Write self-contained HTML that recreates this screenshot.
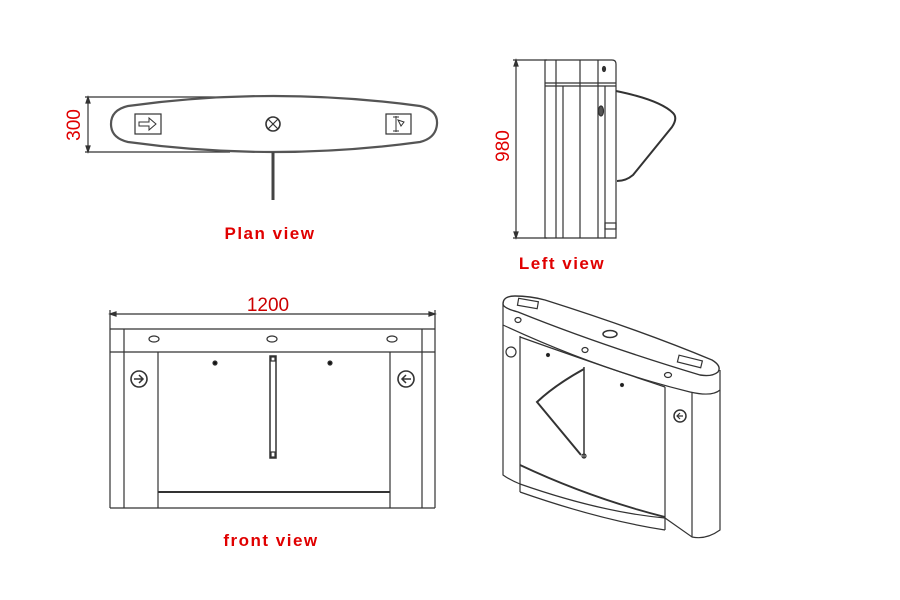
<!DOCTYPE html>
<html><head><style>body{margin:0;background:#fff}svg{display:block}</style></head><body>
<svg width="900" height="600" viewBox="0 0 900 600" xmlns="http://www.w3.org/2000/svg" font-family="Liberation Sans, sans-serif">
<g fill="none" stroke="#333" stroke-width="1.2">
<!-- plan view -->
<line x1="85" y1="97" x2="230" y2="97"/><line x1="85" y1="152" x2="230" y2="152"/>
<line x1="88" y1="98" x2="88" y2="151"/>
<path d="M88 97 l-2 6 h4z M88 152 l-2 -6 h4z" fill="#333"/>
<path d="M128 106 Q273 86 420 106 Q438 110 437 124 Q436 138 420 142 Q273 162 128 142 Q111 138 111 124 Q111 110 128 106Z" stroke-width="2.2" stroke="#555"/>
<rect x="135" y="114" width="26" height="20"/>
<path d="M139 122 h10 v-4 l7 6 -7 6 v-4 h-10z" stroke-width="1"/>
<circle cx="273" cy="124" r="7" stroke-width="1.6"/><path d="M268 119 l10 10 M278 119 l-10 10"/>
<rect x="386" y="114" width="25" height="20"/>
<path d="M396 116 v16 M393 117 h6 M393 131 h6 M398 120 l6 2 -3 4z" stroke-width="1"/>
<rect x="271.5" y="152" width="3" height="48" fill="#444" stroke="none"/>
<!-- left view -->
<line x1="513" y1="60" x2="547" y2="60"/><line x1="513" y1="238" x2="547" y2="238"/>
<line x1="516" y1="61" x2="516" y2="237"/>
<path d="M516 60 l-2 6 h4z M516 238 l-2 -6 h4z" fill="#333"/>
<path d="M545 60 H612 Q616 60 616 64 V238 H545Z"/>
<line x1="545" y1="83" x2="616" y2="83"/><line x1="545" y1="86" x2="616" y2="86"/>
<line x1="556" y1="60" x2="556" y2="238"/><line x1="563" y1="86" x2="563" y2="238"/>
<line x1="580" y1="60" x2="580" y2="238"/><line x1="598" y1="60" x2="598" y2="238"/>
<line x1="605" y1="86" x2="605" y2="238"/><rect x="605" y="223" width="11" height="6"/>
<ellipse cx="604" cy="69" rx="1.5" ry="2.5" fill="#333"/>
<ellipse cx="601" cy="111" rx="2.5" ry="5" fill="#555"/>
<path d="M616 91 Q660 100 673 113 Q678 118 672 127 L633 175 Q626 181 617 181" stroke-width="2"/>
<!-- front view -->
<line x1="110" y1="314" x2="435" y2="314"/>
<path d="M110 314 l6 -2 v4z M435 314 l-6 -2 v4z" fill="#333"/>
<line x1="110" y1="310" x2="110" y2="508"/><line x1="435" y1="310" x2="435" y2="508"/>
<line x1="110" y1="329" x2="435" y2="329"/><line x1="110" y1="352" x2="435" y2="352"/>
<line x1="110" y1="508" x2="435" y2="508"/>
<line x1="124" y1="329" x2="124" y2="508"/><line x1="422" y1="329" x2="422" y2="508"/>
<line x1="158" y1="352" x2="158" y2="508"/><line x1="390" y1="352" x2="390" y2="508"/>
<line x1="158" y1="492" x2="390" y2="492" stroke-width="2"/>
<ellipse cx="154" cy="339" rx="5" ry="3"/><ellipse cx="272" cy="339" rx="5" ry="3"/><ellipse cx="392" cy="339" rx="5" ry="3"/>
<circle cx="215" cy="363" r="2" fill="#111"/><circle cx="330" cy="363" r="2" fill="#111"/>
<circle cx="139" cy="379" r="8" stroke-width="1.6"/><path d="M134 379 h9 M139 375 l4 4 -4 4" stroke-width="1.5"/>
<circle cx="406" cy="379" r="8" stroke-width="1.6"/><path d="M411 379 h-9 M406 375 l-4 4 4 4" stroke-width="1.5"/>
<rect x="270" y="356" width="6" height="102" stroke-width="1.5"/><rect x="271" y="357" width="4" height="4" fill="#fff"/><rect x="271" y="452" width="4" height="5" fill="#fff"/>
<!-- perspective -->
<path d="M503 304 Q503 296 515 296 Q530 296 545 300 Q640 330 712 360 Q722 366 718 372 Q712 377 700 375 Q600 345 518 312 Q503 308 503 304Z" stroke-width="1.4"/>
<path d="M503 304 V325 Q600 370 690 392 Q712 397 720 390 V370"/>
<path d="M503 325 V475 Q510 480 520 484 Q600 512 665 518 L692 537 Q706 540 720 530 V390"/>
<line x1="520" y1="336" x2="520" y2="492"/>
<line x1="665" y1="387" x2="665" y2="530"/><line x1="692" y1="392" x2="692" y2="537"/>
<path d="M520 337 Q590 362 665 387"/>
<path d="M520 465 Q590 498 665 517" stroke-width="1.8"/>
<path d="M520 492 Q600 520 665 530"/>
<rect x="518" y="300" width="20" height="7" transform="rotate(10 528 303)"/>
<rect x="678" y="358" width="24" height="7" transform="rotate(14 690 361)"/>
<ellipse cx="610" cy="334" rx="7" ry="3.5" stroke-width="1.5"/>
<ellipse cx="518" cy="320" rx="3" ry="2.5"/><ellipse cx="585" cy="350" rx="3" ry="2.5"/><ellipse cx="668" cy="375" rx="3.5" ry="2.5"/>
<circle cx="548" cy="355" r="1.5" fill="#111"/><circle cx="622" cy="385" r="1.5" fill="#111"/>
<circle cx="511" cy="352" r="5"/><circle cx="680" cy="416" r="6" stroke-width="1.5"/><path d="M683 416 h-6 M680 413 l-3 3 3 3"/>
<line x1="584" y1="367" x2="584" y2="458" stroke-width="1.5"/>
<path d="M584 369 Q555 385 537 402 L581 455" stroke-width="2"/>
<circle cx="584" cy="456" r="2"/>
</g>
<g fill="#e00000" font-size="17" font-weight="bold">
<text x="270" y="239" text-anchor="middle" letter-spacing="1.5">Plan view</text>
<text x="562" y="269" text-anchor="middle" letter-spacing="1.5">Left view</text>
<text x="271" y="546" text-anchor="middle" letter-spacing="1.5">front view</text>
</g>
<g fill="#e00000" font-size="19">
<text x="268" y="311" text-anchor="middle" fill="#c00">1200</text>
<text transform="translate(80 125) rotate(-90)" text-anchor="middle">300</text>
<text transform="translate(509 146) rotate(-90)" text-anchor="middle">980</text>
</g>
</svg>
</body></html>
